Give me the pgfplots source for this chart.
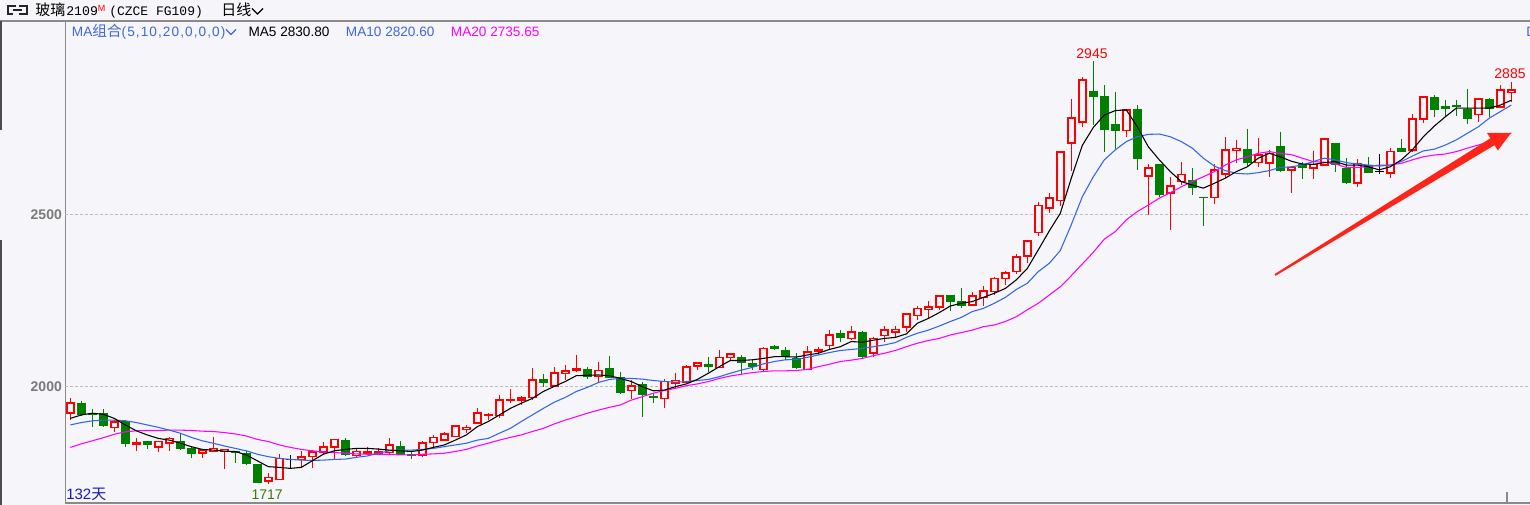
\documentclass[border=0pt]{standalone}
\usepackage{pgfplots}
\pgfplotsset{compat=1.18}
\usepackage{pgfplotstable}
\usepackage{fontspec}
\setmainfont{Liberation Sans}
\newfontfamily\cjk{Noto Sans CJK SC}
\newfontfamily\mono{Liberation Mono}
\newfontfamily\spaced[LetterSpace=8]{Liberation Sans}
\definecolor{bg}{HTML}{F5F5FA}
\definecolor{cRed}{HTML}{FF0000}
\definecolor{cGreen}{HTML}{007F00}
\definecolor{maBlue}{HTML}{3366E6}
\definecolor{txtBlue}{HTML}{3F67E0}
\definecolor{maMag}{HTML}{FF00FF}
\definecolor{gridgrey}{HTML}{BDBDBD}
\definecolor{axgrey}{HTML}{8A8A8A}
\definecolor{tickgrey}{HTML}{7A7A7A}
\definecolor{arrowred}{HTML}{FF2418}
\definecolor{dayblue}{HTML}{1A1AB0}
\definecolor{olive}{HTML}{3C7A0A}

% up (red, hollow) candles
\pgfplotstableread{
i O H L C
0 1923 1966 1903 1952
4 1882 1903 1870 1897
6 1834 1850 1812 1838
8 1824 1841 1810 1841
9 1836 1855 1812 1850
12 1807 1816 1792 1816
13 1812 1855 1812 1821
14 1812 1818 1760 1818
18 1727 1749 1717 1737
19 1731 1804 1729 1792
21 1789 1812 1768 1797
22 1797 1817 1765 1810
23 1810 1839 1802 1826
24 1824 1847 1790 1847
26 1800 1821 1797 1812
27 1807 1826 1802 1812
28 1805 1821 1802 1810
29 1809 1850 1805 1830
32 1802 1841 1797 1836
33 1838 1860 1826 1853
34 1845 1870 1841 1862
35 1855 1889 1853 1886
36 1876 1889 1865 1882
37 1894 1937 1892 1923
38 1916 1923 1903 1919
39 1916 1976 1908 1961
40 1960 1992 1952 1963
41 1962 1973 1947 1967
42 1969 2053 1961 2020
44 2002 2056 2000 2039
45 2039 2063 2019 2046
46 2047 2092 2044 2051
48 2029 2073 2015 2047
51 1989 2019 1963 2002
54 1966 2021 1937 2015
55 2010 2041 1995 2018
56 2012 2063 2010 2058
57 2060 2073 2048 2068
59 2056 2105 2053 2085
60 2085 2099 2076 2094
63 2050 2114 2044 2111
67 2050 2118 2048 2100
68 2104 2116 2092 2108
69 2119 2165 2108 2150
71 2140 2176 2135 2158
73 2097 2145 2087 2140
74 2148 2177 2131 2165
75 2158 2176 2145 2166
76 2174 2215 2160 2211
77 2206 2234 2194 2227
78 2226 2249 2198 2232
79 2232 2266 2223 2263
82 2237 2274 2234 2263
83 2259 2292 2234 2278
84 2276 2319 2266 2314
85 2314 2337 2295 2329
86 2334 2385 2327 2377
87 2379 2423 2358 2423
88 2447 2537 2437 2526
89 2518 2563 2503 2547
90 2540 2680 2525 2680
91 2706 2834 2627 2779
92 2767 2897 2754 2890
96 2743 2806 2725 2803
98 2612 2646 2498 2634
100 2561 2609 2455 2583
101 2595 2653 2585 2616
104 2549 2645 2530 2629
105 2616 2723 2605 2687
106 2685 2716 2648 2691
108 2650 2721 2638 2672
109 2648 2687 2607 2677
111 2629 2636 2563 2636
113 2634 2685 2602 2645
114 2643 2721 2640 2719
117 2590 2660 2580 2648
120 2619 2692 2605 2682
122 2687 2791 2682 2776
123 2776 2843 2766 2840
128 2790 2834 2769 2834
130 2811 2875 2811 2861
131 2854 2885 2825 2861
}\upT

% down (green, filled) candles
\pgfplotstableread{
i O H L C
1 1954 1959 1915 1918
2 1925 1935 1882 1919
3 1923 1934 1884 1886
5 1900 1903 1824 1833
7 1842 1842 1819 1831
10 1842 1865 1816 1819
11 1823 1826 1792 1805
15 1813 1813 1780 1807
16 1807 1812 1773 1775
17 1775 1775 1722 1722
25 1845 1850 1800 1802
30 1828 1843 1802 1802
31 1805 1812 1790 1799
43 2022 2037 1998 2010
47 2050 2058 2021 2029
49 2053 2089 2024 2026
50 2029 2042 1979 1981
52 2008 2015 1913 1976
53 1973 1981 1954 1966
58 2066 2085 2044 2058
61 2085 2092 2034 2068
62 2068 2076 2047 2056
64 2118 2121 2107 2108
65 2107 2114 2076 2087
66 2084 2097 2050 2055
70 2155 2165 2131 2142
72 2159 2162 2082 2087
80 2266 2266 2221 2247
81 2249 2287 2227 2235
93 2858 2945 2759 2841
94 2843 2875 2682 2745
95 2762 2856 2690 2743
97 2806 2817 2629 2661
99 2646 2646 2551 2556
102 2600 2634 2556 2576
103 2551 2551 2466 2547
107 2690 2748 2638 2650
110 2698 2740 2624 2627
112 2645 2653 2602 2634
115 2708 2708 2622 2643
116 2634 2663 2587 2592
118 2643 2667 2621 2621
121 2692 2718 2682 2682
124 2840 2846 2783 2803
125 2814 2832 2783 2807
126 2818 2832 2785 2812
127 2807 2864 2762 2777
129 2835 2837 2783 2807
}\downT

% doji (black) candles
\pgfplotstableread{
i O H L C
20 1789 1802 1763 1789
119 2624 2675 2617 2624
}\dojiT

\begin{document}
\begin{tikzpicture}[x=0.75pt,y=0.75pt]
\fill[bg] (0,0) rectangle (1530,505);
\useasboundingbox (0,0) rectangle (1530,505);

% frame lines
\draw[axgrey,line width=1pt] (0,484) -- (1530,484);
\draw[black!70,line width=1.2pt] (1,484) -- (1,375);
\draw[black!70,line width=1.2pt] (1,265) -- (1,0);
\draw[axgrey,line width=1pt] (65.3,484) -- (65.3,2) -- (1530,2);
\draw[axgrey,line width=1pt] (1507,2) -- (1507,13);

\begin{axis}[
  at={(48.975pt,1.5pt)}, anchor=south west,
  scale only axis, width=1098.525pt, height=361.5pt,
  xmin=-0.4545, xmax=132.70, ymin=1662.6, ymax=3060.9,
  axis line style={draw=none},
  xtick=\empty,
  ytick={2000,2500}, yticklabels={2000,2500},
  major tick length=0pt,
  yticklabel style={font=\fontsize{10.5pt}{12pt}\selectfont\bfseries, text=tickgrey, anchor=east, inner sep=0pt, xshift=-2.4pt},
  ymajorgrids,
  major grid style={gridgrey, line width=0.75pt, dash pattern=on 2.25pt off 1.5pt},
  candle/.style={draw=none, mark=none, forget plot, error bars/.cd, y dir=minus, y explicit, error mark=none},
]
% wicks
\addplot[candle, error bar style={draw=cRed, line width=0.98pt}]
  table[x=i, y=H, y error minus expr={\thisrow{H}-\thisrow{L}}] {\upT};
\addplot[candle, error bar style={draw=cGreen, line width=0.98pt}]
  table[x=i, y=H, y error minus expr={\thisrow{H}-\thisrow{L}}] {\downT};
\addplot[candle, error bar style={draw=black, line width=0.98pt}]
  table[x=i, y=H, y error minus expr={\thisrow{H}-\thisrow{L}}] {\dojiT};
% red hollow bodies
\addplot[candle, error bar style={draw=cRed, line width=6.375pt}]
  table[x=i, y expr={\thisrow{C}+2.32}, y error minus expr={\thisrow{C}-\thisrow{O}+4.64}] {\upT};
\addplot[candle, error bar style={draw=bg, line width=3.9pt}]
  table[x=i, y expr={\thisrow{C}-2.5}, y error minus expr={max(\thisrow{C}-\thisrow{O}-5,0)}] {\upT};
% green filled bodies
\addplot[candle, error bar style={draw=cGreen, line width=6.375pt}]
  table[x=i, y=O, y error minus expr={max(\thisrow{O}-\thisrow{C},3.8)}] {\downT};
% doji bodies
\addplot[candle, error bar style={draw=black, line width=6.375pt}]
  table[x=i, y expr={\thisrow{O}+1.9}, y error minus expr={3.8}] {\dojiT};

% MA20
\addplot[maMag, line width=0.8pt, mark=none] coordinates {
(0,1824)(1,1834)(2,1843)(3,1852)(4,1862)(5,1869)(6,1872)(7,1873)(8,1873)(9,1874)(10,1874)(11,1873)(12,1871)(13,1870)(14,1867)(15,1863)(16,1857)(17,1847)(18,1841)(19,1831)(20,1824)(21,1818)(22,1814)(23,1810)(24,1809)(25,1807)(26,1805)(27,1804)(28,1804)(29,1804)(30,1802)(31,1802)(32,1804)(33,1805)(34,1807)(35,1812)(36,1818)(37,1828)(38,1836)(39,1845)(40,1853)(41,1860)(42,1870)(43,1879)(44,1892)(45,1903)(46,1913)(47,1923)(48,1932)(49,1940)(50,1947)(51,1961)(52,1971)(53,1981)(54,1989)(55,1995)(56,2003)(57,2008)(58,2015)(59,2024)(60,2031)(61,2036)(62,2041)(63,2044)(64,2046)(65,2046)(66,2047)(67,2050)(68,2058)(69,2065)(70,2073)(71,2077)(72,2082)(73,2090)(74,2097)(75,2105)(76,2116)(77,2126)(78,2134)(79,2140)(80,2150)(81,2157)(82,2164)(83,2174)(84,2179)(85,2189)(86,2203)(87,2223)(88,2242)(89,2266)(90,2290)(91,2322)(92,2356)(93,2390)(94,2428)(95,2450)(96,2484)(97,2508)(98,2527)(99,2547)(100,2563)(101,2580)(102,2595)(103,2609)(104,2624)(105,2643)(106,2658)(107,2667)(108,2677)(109,2682)(110,2677)(111,2673)(112,2663)(113,2653)(114,2651)(115,2646)(116,2636)(117,2636)(118,2638)(119,2643)(120,2643)(121,2648)(122,2658)(123,2667)(124,2672)(125,2675)(126,2682)(127,2692)(128,2701)(129,2711)(130,2723)(131,2736)};
% MA10
\addplot[maBlue, line width=0.8pt, mark=none] coordinates {
(0,1889)(1,1896)(2,1901)(3,1903)(4,1903)(5,1901)(6,1896)(7,1889)(8,1882)(9,1874)(10,1865)(11,1853)(12,1843)(13,1836)(14,1828)(15,1821)(16,1814)(17,1804)(18,1797)(19,1792)(20,1789)(21,1787)(22,1786)(23,1787)(24,1789)(25,1790)(26,1795)(27,1799)(28,1807)(29,1814)(30,1816)(31,1816)(32,1818)(33,1821)(34,1826)(35,1831)(36,1836)(37,1845)(38,1850)(39,1865)(40,1879)(41,1899)(42,1918)(43,1937)(44,1955)(45,1969)(46,1986)(47,1998)(48,2012)(49,2021)(50,2024)(51,2024)(52,2022)(53,2018)(54,2015)(55,2013)(56,2015)(57,2018)(58,2021)(59,2029)(60,2039)(61,2048)(62,2056)(63,2066)(64,2073)(65,2078)(66,2079)(67,2085)(68,2092)(69,2099)(70,2105)(71,2108)(72,2111)(73,2116)(74,2121)(75,2128)(76,2143)(77,2155)(78,2164)(79,2176)(80,2189)(81,2201)(82,2218)(83,2227)(84,2242)(85,2259)(86,2282)(87,2300)(88,2334)(89,2358)(90,2395)(91,2470)(92,2551)(93,2609)(94,2658)(95,2687)(96,2711)(97,2725)(98,2732)(99,2733)(100,2725)(101,2711)(102,2692)(103,2663)(104,2640)(105,2627)(106,2619)(107,2617)(108,2621)(109,2627)(110,2636)(111,2638)(112,2643)(113,2653)(114,2663)(115,2658)(116,2650)(117,2646)(118,2643)(119,2640)(120,2643)(121,2653)(122,2669)(123,2684)(124,2689)(125,2701)(126,2716)(127,2735)(128,2754)(129,2779)(130,2798)(131,2817)};
% MA5
\addplot[black, line width=0.8pt, mark=none] coordinates {
(0,1908)(1,1918)(2,1923)(3,1920)(4,1908)(5,1889)(6,1872)(7,1860)(8,1850)(9,1845)(10,1836)(11,1826)(12,1818)(13,1816)(14,1813)(15,1812)(16,1802)(17,1785)(18,1768)(19,1766)(20,1763)(21,1766)(22,1785)(23,1804)(24,1814)(25,1818)(26,1821)(27,1821)(28,1819)(29,1816)(30,1814)(31,1812)(32,1816)(33,1824)(34,1831)(35,1845)(36,1860)(37,1884)(38,1899)(39,1918)(40,1937)(41,1952)(42,1966)(43,1986)(44,2001)(45,2015)(46,2032)(47,2033)(48,2034)(49,2032)(50,2024)(51,2015)(52,2000)(53,1988)(54,1990)(55,2000)(56,2008)(57,2021)(58,2039)(59,2058)(60,2076)(61,2076)(62,2078)(63,2082)(64,2087)(65,2087)(66,2086)(67,2092)(68,2097)(69,2108)(70,2116)(71,2131)(72,2129)(73,2135)(74,2140)(75,2143)(76,2153)(77,2184)(78,2198)(79,2215)(80,2234)(81,2242)(82,2247)(83,2259)(84,2271)(85,2285)(86,2310)(87,2343)(88,2397)(89,2452)(90,2503)(91,2605)(92,2700)(93,2752)(94,2788)(95,2801)(96,2803)(97,2754)(98,2696)(99,2658)(100,2624)(101,2595)(102,2585)(103,2576)(104,2590)(105,2605)(106,2624)(107,2638)(108,2663)(109,2677)(110,2667)(111,2654)(112,2646)(113,2645)(114,2650)(115,2653)(116,2643)(117,2643)(118,2638)(119,2629)(120,2638)(121,2658)(122,2687)(123,2725)(124,2756)(125,2783)(126,2808)(127,2808)(128,2808)(129,2808)(130,2817)(131,2831)};
\end{axis}

% red arrow annotation (tapered shaft)
\fill[arrowred] (1275.5,229.14) -- (1494.56,359.87) -- (1497.8,354.5) -- (1511,372) -- (1487,372) -- (1490.44,366.73) -- (1274.5,230.86) -- cycle;

% header
\begin{scope}[line width=1.6pt, draw=black!85]
\draw (16,499) -- (8,499) -- (8,491) -- (13,491);
\draw (19,499) -- (27,499) -- (27,491) -- (19,491);
\draw (13,495) -- (22,495);
\end{scope}
\node[anchor=base west, inner sep=0pt] at (35,489) {\fontsize{11.25pt}{12pt}\selectfont\cjk 玻璃};
\node[anchor=base west, inner sep=0pt] at (66,489) {\fontsize{9.9pt}{12pt}\selectfont\mono 2109};
\node[anchor=base west, inner sep=0pt, text=cRed] at (97.5,493) {\fontsize{6.75pt}{8pt}\selectfont M};
\node[anchor=base west, inner sep=0pt] at (109,489) {\fontsize{9.75pt}{12pt}\selectfont\mono (CZCE FG109)};
\node[anchor=base west, inner sep=0pt] at (221,489) {\fontsize{11.25pt}{12pt}\selectfont\cjk 日线};
\draw[black, line width=0.9pt] (252,496.5) -- (257.5,491) -- (263,496.5);

% legend line
\node[anchor=base west, inner sep=0pt, text=txtBlue] at (71.7,468.3) {\fontsize{10.2pt}{12pt}\selectfont MA{\fontsize{11pt}{12pt}\selectfont\cjk 组合}{\spaced(5,10,20,0,0,0)}};
\draw[txtBlue, line width=0.9pt] (226,475.5) -- (231,470.5) -- (236,475.5);
\node[anchor=base west, inner sep=0pt, text=black] at (248.3,468.3) {\fontsize{10.2pt}{12pt}\selectfont MA5 2830.80};
\node[anchor=base west, inner sep=0pt, text=txtBlue] at (345.7,468.3) {\fontsize{10.2pt}{12pt}\selectfont MA10 2820.60};
\node[anchor=base west, inner sep=0pt, text=maMag] at (450.7,468.3) {\fontsize{10.2pt}{12pt}\selectfont MA20 2735.65};
\node[anchor=base west, inner sep=0pt, text=txtBlue] at (1526,468.3) {\fontsize{10.2pt}{12pt}\selectfont D};

% value labels
\node[anchor=base, inner sep=0pt, text=cRed] at (1092,446.7) {\fontsize{10.5pt}{12pt}\selectfont 2945};
\node[anchor=base, inner sep=0pt, text=cRed] at (1510,426.7) {\fontsize{10.5pt}{12pt}\selectfont 2885};
\node[anchor=base, inner sep=0pt, text=olive] at (267.2,5) {\fontsize{10.5pt}{12pt}\selectfont 1717};
\node[anchor=base west, inner sep=0pt, text=dayblue] at (66,5) {\fontsize{11.25pt}{12pt}\selectfont 132{\cjk 天}};
\end{tikzpicture}
\end{document}
